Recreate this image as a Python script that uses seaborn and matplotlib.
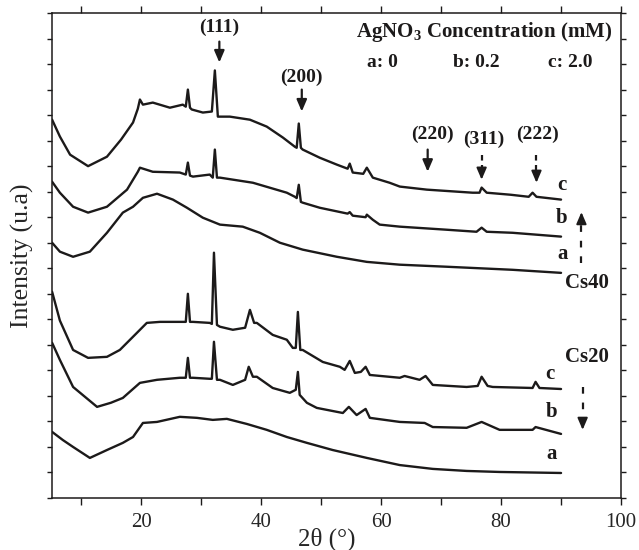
import numpy as np
import pandas as pd
import matplotlib
matplotlib.use("Agg")
import matplotlib.pyplot as plt
from matplotlib.ticker import MultipleLocator
import seaborn as sns

# ---------------- data (2theta in degrees, intensity in arbitrary units) -------------
cs40c_x = [5.1, 6.4, 8.1, 11.1, 14.25, 16.6, 18.6, 19.4, 19.75, 20.25, 21.9, 24.75, 26.9, 27.4,
           27.75, 28.1, 28.4, 30.25, 31.75, 32.25, 32.75, 34.75, 38.1, 40.9, 43.6, 45.6, 45.9,
           46.25, 46.6, 46.9, 49.75, 52.6, 54.4, 54.75, 55.25, 57.0, 57.6, 58.6, 61.4, 63.1,
           67.6, 75.25, 76.4, 76.75, 77.6, 81.6, 84.6, 85.25, 85.9, 90.0]
cs40c_y = [14.82, 14.16, 13.45, 13.0, 13.37, 14.04, 14.71, 15.25, 15.61, 15.41, 15.49, 15.29,
           15.41, 15.33, 16.0, 15.29, 15.22, 15.10, 15.14, 16.75, 14.94, 14.94, 14.82, 14.55,
           14.12, 13.76, 13.72, 14.67, 13.72, 13.65, 13.33, 13.06, 12.90, 13.10, 12.75, 12.70,
           12.94, 12.55, 12.35, 12.20, 12.08, 11.96, 11.96, 12.16, 11.96, 11.88, 11.80, 11.96,
           11.80, 11.69]

cs40b_x = [5.1, 6.4, 8.6, 11.1, 14.25, 17.6, 19.4, 19.75, 21.9, 26.4, 27.4, 27.75, 28.1, 28.6,
           31.4, 31.9, 32.25, 32.6, 33.1, 38.6, 44.25, 45.6, 45.9, 46.25, 46.6, 46.9, 49.75,
           54.4, 54.75, 55.25, 57.4, 57.6, 58.6, 59.75, 63.1, 70.9, 75.9, 76.75, 77.6, 81.9, 90.0]
cs40b_y = [12.39, 11.96, 11.41, 11.18, 11.41, 12.08, 12.78, 12.94, 12.78, 12.75, 12.67, 13.14,
           12.63, 12.59, 12.67, 12.55, 13.65, 12.55, 12.55, 12.35, 11.96, 11.80, 11.75, 12.27,
           11.60, 11.57, 11.37, 11.14, 11.20, 11.06, 11.00, 11.10, 10.90, 10.71, 10.63, 10.51,
           10.43, 10.59, 10.43, 10.39, 10.24]

cs40a_x = [5.1, 6.4, 8.6, 11.4, 14.25, 16.9, 18.6, 20.25, 22.6, 25.25, 27.6, 30.25, 33.1, 36.9,
           39.75, 43.1, 46.9, 52.6, 57.6, 63.1, 70.9, 81.9, 90.0]
cs40a_y = [10.0, 9.65, 9.45, 9.65, 10.39, 11.18, 11.41, 11.76, 11.92, 11.69, 11.37, 10.98,
           10.71, 10.63, 10.39, 10.0, 9.73, 9.45, 9.25, 9.14, 9.06, 8.94, 8.82]

cs20c_x = [5.1, 6.4, 8.6, 11.1, 14.25, 16.4, 19.25, 20.9, 23.1, 26.4, 27.4, 27.75, 28.1, 28.6,
           31.4, 31.75, 32.1, 32.6, 33.1, 35.25, 37.3, 38.1, 38.8, 39.25, 41.9, 44.25, 45.25,
           45.75, 46.1, 46.5, 46.9, 50.25, 53.1, 53.9, 54.75, 55.6, 56.6, 57.4, 58.1, 63.1,
           63.9, 66.4, 67.4, 68.6, 74.25, 76.1, 76.75, 77.75, 78.6, 85.25, 85.75, 86.4, 90.0]
cs20c_y = [8.08, 6.95, 5.80, 5.49, 5.53, 5.80, 6.47, 6.86, 6.90, 6.90, 6.90, 8.0, 6.90, 6.90,
           6.86, 6.82, 9.61, 6.78, 6.71, 6.59, 6.67, 7.37, 6.86, 6.86, 6.39, 6.20, 5.88, 5.88,
           7.29, 5.80, 5.80, 5.33, 5.14, 5.02, 5.37, 4.90, 4.94, 5.14, 4.82, 4.71, 4.78, 4.63,
           4.78, 4.43, 4.35, 4.39, 4.75, 4.39, 4.35, 4.31, 4.55, 4.31, 4.27]

cs20b_x = [5.1, 6.4, 8.6, 12.6, 14.9, 16.9, 19.75, 22.6, 26.4, 27.4, 27.75, 28.1, 28.6, 31.4,
           31.75, 32.1, 32.6, 33.1, 35.25, 37.3, 37.9, 38.6, 39.25, 41.9, 44.75, 45.75, 46.1,
           46.4, 47.6, 49.25, 53.6, 54.6, 55.9, 57.4, 58.1, 63.1, 67.25, 68.6, 74.25, 76.75,
           79.75, 85.25, 85.75, 90.0]
cs20b_y = [6.08, 5.41, 4.35, 3.57, 3.73, 3.92, 4.51, 4.63, 4.71, 4.71, 5.49, 4.71, 4.71, 4.67,
           4.67, 6.12, 4.63, 4.63, 4.43, 4.63, 5.14, 4.75, 4.75, 4.31, 4.12, 4.24, 4.94, 4.04,
           3.73, 3.53, 3.33, 3.57, 3.25, 3.49, 3.14, 2.98, 2.94, 2.78, 2.75, 2.98, 2.67, 2.67,
           2.78, 2.51]

cs20a_x = [5.1, 6.9, 8.6, 11.4, 14.25, 16.9, 18.6, 20.25, 22.6, 26.4, 29.25, 31.9, 34.25, 37.6,
           40.9, 44.25, 47.6, 51.9, 57.6, 63.1, 68.6, 74.25, 79.75, 90.0]
cs20a_y = [2.59, 2.27, 2.0, 1.57, 1.88, 2.16, 2.39, 2.94, 2.98, 3.18, 3.14, 3.06, 3.10, 2.90,
           2.67, 2.39, 2.16, 1.88, 1.57, 1.29, 1.14, 1.06, 1.02, 0.98]

curve_names = ["Cs40 c", "Cs40 b", "Cs40 a", "Cs20 c", "Cs20 b", "Cs20 a"]

peak_labels = ["(111)", "(200)", "(220)", "(311)", "(222)"]
peak_pos = [33.0, 46.75, 67.75, 76.75, 85.9]
peak_text_x = [33.0, 46.75, 68.6, 77.1, 86.1]
peak_text_y = [18.43, 16.47, 14.24, 14.04, 14.24]
peak_arrow_top = [17.88, 16.0, 13.65, 13.45, 13.45]
peak_arrow_tip = [17.06, 15.14, 12.78, 12.47, 12.35]
peak_dashed = [False, False, False, True, True]

conc_labels = ["a: 0", "b: 0.2", "c: 2.0"]
conc_x = [60.25, 75.9, 91.6]
x_ticks = [20, 40, 60, 80, 100]

# ---------------- build table -------------------------------------------------------
xs = [cs40c_x, cs40b_x, cs40a_x, cs20c_x, cs20b_x, cs20a_x]
ys = [cs40c_y, cs40b_y, cs40a_y, cs20c_y, cs20b_y, cs20a_y]
frames = [pd.DataFrame({"two_theta": x, "intensity": y, "curve": n})
          for x, y, n in zip(xs, ys, curve_names)]
df = pd.concat(frames, ignore_index=True)

# ---------------- style ----------------------------------------------------------
sns.set_style("ticks")
plt.rcParams['font.family'] = ['Liberation Serif', 'DejaVu Serif']
plt.rcParams['mathtext.fontset'] = 'custom'
plt.rcParams['mathtext.rm'] = 'Liberation Serif'
plt.rcParams['mathtext.bf'] = 'Liberation Serif:bold'
plt.rcParams['axes.linewidth'] = 1.1

fig = plt.figure(figsize=(6.39, 5.5), dpi=100)
ax = fig.add_axes([51.5 / 639, 52 / 550, (621 - 51.5) / 639, 485 / 550])

ink = "#1c1a1a"
sns.lineplot(data=df, x="two_theta", y="intensity", hue="curve", units="curve",
             estimator=None, sort=False, legend=False,
             palette={n: ink for n in curve_names}, linewidth=1.7, ax=ax)

ax.set_xlim(5, 100)
ax.set_ylim(0, 19)
ax.set_xticks(x_ticks)
ax.xaxis.set_minor_locator(MultipleLocator(10))
ax.yaxis.set_major_locator(MultipleLocator(1))
ax.set_yticklabels([])
ax.tick_params(axis="both", which="both", direction="out", color=ink, width=1.0)
ax.tick_params(axis="x", which="both", length=5, labelsize=15, pad=6, top=True)
ax.tick_params(axis="y", which="both", length=3.5, right=True)
for s in ax.spines.values():
    s.set_color(ink)

ax.set_xlabel("2θ (°)", fontsize=18, labelpad=0)
ax.xaxis.set_label_coords(0.484, -0.06)
ax.set_ylabel("Intensity (u.a)", fontsize=18.5)
ax.yaxis.set_label_coords(-0.031, 0.5)

bold = dict(fontweight="bold", fontsize=14, color=ink, ha="center", va="center")

# peak annotations
for lab, px, tx, ty, y0, y1, dashed in zip(peak_labels, peak_pos, peak_text_x, peak_text_y,
                                           peak_arrow_top, peak_arrow_tip, peak_dashed):
    ax.text(tx, ty, lab, **bold)
    if dashed:
        ax.plot([px, px], [y0, y1 + 0.35], color=ink, lw=1.6, ls=(0, (2.5, 2)))
        ax.annotate("", xy=(px, y1), xytext=(px, y1 + 0.45),
                    arrowprops=dict(arrowstyle="-|>,head_length=0.7,head_width=0.3",
                                    color=ink, lw=1.4, mutation_scale=10,
                                    shrinkA=0, shrinkB=0))
    else:
        ax.annotate("", xy=(px, y1), xytext=(px, y0),
                    arrowprops=dict(arrowstyle="-|>,head_length=0.7,head_width=0.3",
                                    color=ink, lw=1.6, mutation_scale=10,
                                    shrinkA=0, shrinkB=0))

# concentration legend text
ax.text(77.1, 18.27, r"AgNO$_\mathbf{3}$ Concentration (mM)", fontweight="bold",
        fontsize=15, color=ink, ha="center", va="center")
for lab, cx in zip(conc_labels, conc_x):
    ax.text(cx, 17.06, lab, **bold)

# curve labels
lab14 = dict(fontweight="bold", fontsize=15, color=ink, ha="center", va="center")
ax.text(90.1, 12.27, "c", **lab14)
ax.text(90.0, 10.98, "b", **lab14)
ax.text(90.3, 9.57, "a", **lab14)
ax.text(94.4, 8.43, "Cs40", **lab14)
ax.text(88.1, 4.86, "c", **lab14)
ax.text(88.4, 3.37, "b", **lab14)
ax.text(88.4, 1.73, "a", **lab14)
ax.text(94.25, 5.53, "Cs20", **lab14)

# dashed direction arrows
ax.plot([93.4, 93.4], [9.22, 10.7], color=ink, lw=1.6, ls=(0, (3, 4)))
ax.annotate("", xy=(93.4, 11.2), xytext=(93.4, 10.75),
            arrowprops=dict(arrowstyle="-|>,head_length=0.7,head_width=0.3",
                            color=ink, lw=1.4, mutation_scale=10, shrinkA=0, shrinkB=0))
ax.plot([93.6, 93.6], [4.35, 3.15], color=ink, lw=1.6, ls=(0, (3, 4)))
ax.annotate("", xy=(93.6, 2.67), xytext=(93.6, 3.12),
            arrowprops=dict(arrowstyle="-|>,head_length=0.7,head_width=0.3",
                            color=ink, lw=1.4, mutation_scale=10, shrinkA=0, shrinkB=0))

fig.savefig("out.png", dpi=100)
